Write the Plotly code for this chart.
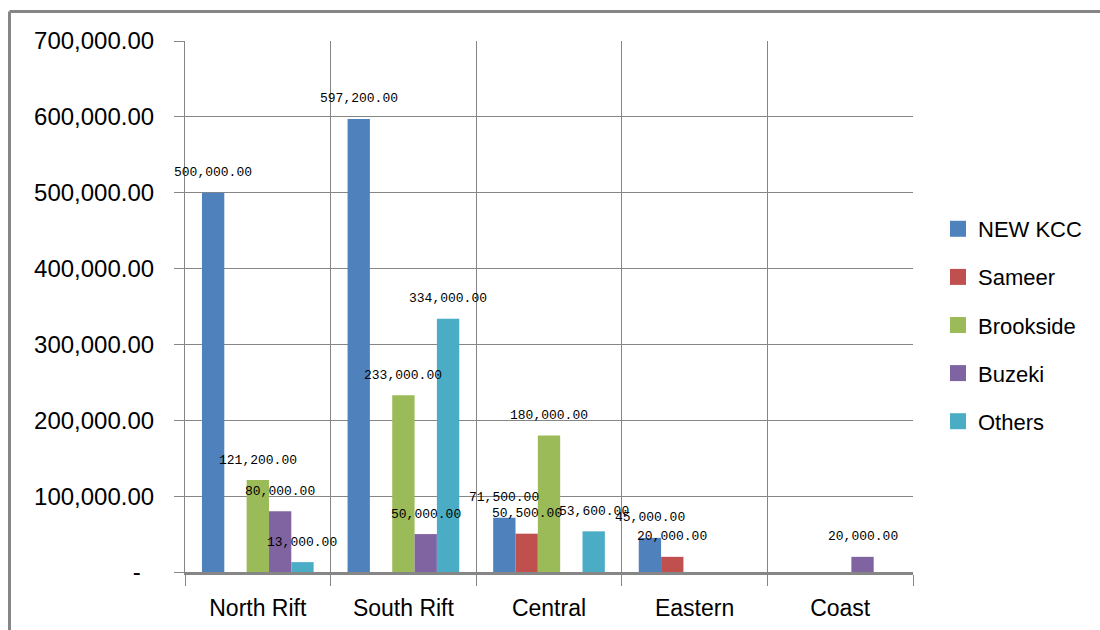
import plotly.graph_objects as go

categories = ["North Rift", "South Rift", "Central", "Eastern", "Coast"]
series_names = ["NEW KCC", "Sameer", "Brookside", "Buzeki", "Others"]
new_kcc = [500000, 597200, 71500, 45000, None]
sameer = [None, None, 50500, 20000, None]
brookside = [121200, 233000, 180000, None, None]
buzeki = [80000, 50000, None, None, 20000]
others = [13000, 334000, 53600, None, None]
colors = ["#4F81BD", "#C0504D", "#9BBB59", "#8064A2", "#4BACC6"]
y_tickvals = [0, 100000, 200000, 300000, 400000, 500000, 600000, 700000]
y_ticktext = ["-\u00a0\u00a0", "100,000.00", "200,000.00", "300,000.00", "400,000.00",
              "500,000.00", "600,000.00", "700,000.00"]

all_series = [new_kcc, sameer, brookside, buzeki, others]

W, H = 1100, 630
ML, MR, MT, MB = 185, 187, 41, 58
BARGAP = 0.233
plot_w = W - ML - MR
cat_w = plot_w / len(categories)
bar_w = cat_w * (1 - BARGAP) / len(all_series)
GRID = "#868686"

fig = go.Figure()
for i, (name, vals) in enumerate(zip(series_names, all_series)):
    fig.add_trace(go.Bar(x=categories, y=vals, name=name, marker_color=colors[i],
                         marker_line_width=0, showlegend=False))
for i, name in enumerate(series_names):
    fig.add_trace(go.Scatter(x=[categories[0]], y=[None], mode="markers", name=name,
                             marker=dict(symbol="square", size=17, color=colors[i]),
                             legendgroup=name, showlegend=True, hoverinfo="skip"))

annotations = []
for i, vals in enumerate(all_series):
    for cat, v in zip(categories, vals):
        if v is None:
            continue
        annotations.append(dict(x=cat, y=v, xref="x", yref="y", text=f"{v:,.2f}",
                                showarrow=False, xshift=(i - 2) * bar_w, yshift=20,
                                yanchor="middle", xanchor="center",
                                font=dict(family="Liberation Mono", size=13, color="#000000")))

def px_x(p):
    return (p - ML) / plot_w

def px_y(p):
    return (H - MB - p) / (H - MT - MB)

shapes = [
    dict(type="line", xref="paper", yref="paper", x0=px_x(9.5), x1=px_x(9.5),
         y0=px_y(11.5), y1=px_y(660), line=dict(color=GRID, width=3)),
    dict(type="line", xref="paper", yref="paper", x0=px_x(9.5), x1=px_x(1130),
         y0=px_y(11.5), y1=px_y(11.5), line=dict(color=GRID, width=3)),
]

fig.update_layout(
    width=W, height=H,
    margin=dict(l=ML, r=MR, t=MT, b=MB, autoexpand=False),
    paper_bgcolor="white", plot_bgcolor="white",
    barmode="group", bargap=BARGAP, bargroupgap=0,
    font=dict(family="Liberation Sans", color="#000000"),
    annotations=annotations, shapes=shapes,
    legend=dict(xref="container", yref="container", x=938 / W, xanchor="left",
                y=1 - 325 / H, yanchor="middle",
                font=dict(size=22, family="Liberation Sans"), tracegroupgap=16.5,
                bgcolor="rgba(0,0,0,0)"),
    xaxis=dict(type="category", categoryorder="array", categoryarray=categories,
               range=[-0.5, len(categories) - 0.5], autorange=False, automargin=False,
               tickson="boundaries", showgrid=True, gridcolor=GRID,
               gridwidth=1, ticks="outside", ticklen=11, tickcolor=GRID,
               showline=True, linecolor=GRID, linewidth=2.5,
               tickfont=dict(size=23, family="Liberation Sans"), ticklabelstandoff=14),
    yaxis=dict(range=[0, 700000], tickvals=y_tickvals, ticktext=y_ticktext,
               showgrid=True, gridcolor=GRID, gridwidth=1, zeroline=False,
               automargin=False,
               ticks="outside", ticklen=10, tickcolor=GRID, showline=True,
               linecolor=GRID, linewidth=1,
               tickfont=dict(size=24, family="Liberation Sans"), ticklabelstandoff=15),
)

fig.write_html("out.html")
